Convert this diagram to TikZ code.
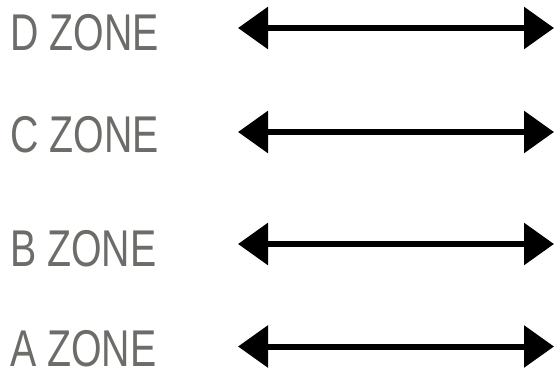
\documentclass[tikz,border=0pt]{standalone}
\usepackage{fontspec}
\usepackage{tikz}
\usetikzlibrary{arrows.meta}
\newfontfamily\zonefont[FakeStretch=0.76]{Liberation Sans}
\definecolor{zonegray}{RGB}{106,109,104}
\tikzset{
  zonelabel/.style={anchor=base west,inner sep=0pt,text=zonegray,
    font=\zonefont\fontsize{51.7}{60}\selectfont},
  zonearrow/.style={line width=6pt,
    {Triangle[length=30pt,width=41pt]}-{Triangle[length=30pt,width=41pt]}}
}
\begin{document}
\begin{tikzpicture}[x=1pt, y=-1pt]
\useasboundingbox (0,0) rectangle (554,372);
% label baseline / arrow height for each zone
\foreach \z/\b/\a in {D/50/28, C/152/132, B/266/244, A/366/346.5}
{
  \node[zonelabel] (lab\z) at (10,\b) {\z\ ZONE};
  \coordinate (left\z) at (238,\a);
  \coordinate (right\z) at (554,\a);
  \draw[zonearrow] (left\z) -- (right\z);
}
\end{tikzpicture}
\end{document}
